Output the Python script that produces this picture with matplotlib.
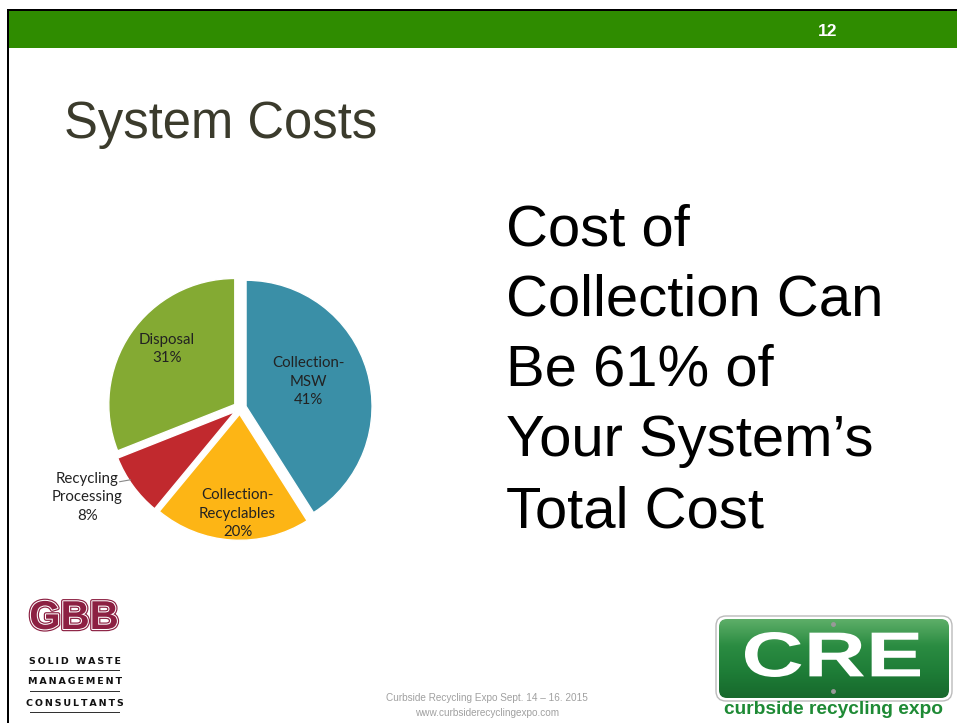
import matplotlib
matplotlib.use("Agg")
import matplotlib.pyplot as plt
import matplotlib.patheffects as pe
from matplotlib.patches import Rectangle, FancyBboxPatch, PathPatch
from matplotlib.textpath import TextPath
from matplotlib.font_manager import FontProperties
from matplotlib.transforms import Affine2D
import numpy as np

W, H = 957, 723

# chart data
segments = ["Collection-\nMSW", "Collection-\nRecyclables", "Recycling\nProcessing", "Disposal"]
shares = [41, 20, 8, 31]
colors = ["#3A8FA7", "#FDB515", "#C1292E", "#84AA33"]

title = "System Costs"
callout = ["Cost of", "Collection Can", "Be 61% of", "Your System\u2019s", "Total Cost"]
page_no = "12"
footer = ["Curbside Recycling Expo Sept. 14 \u2013 16. 2015", "www.curbsiderecyclingexpo.com"]


def fx(x):
    return x / W


def fy(y):
    return 1 - y / H


fig = plt.figure(figsize=(W / 100, H / 100), dpi=100)
fig.patch.set_facecolor("white")

# slide frame and header bar
fig.patches.append(Rectangle((fx(9), fy(48)), 1, fy(11) - fy(48), transform=fig.transFigure,
                             facecolor="#2F8C00", edgecolor="none"))
fig.patches.append(Rectangle((fx(7), fy(11)), 1, fy(9) - fy(11), transform=fig.transFigure,
                             facecolor="black", edgecolor="none"))
fig.patches.append(Rectangle((fx(7), 0), fx(2), fy(9), transform=fig.transFigure,
                             facecolor="black", edgecolor="none"))
fig.text(fx(828), fy(31), page_no, color="white", fontsize=12.5, fontweight="bold",
         family="Liberation Sans", ha="center", va="center")

fig.text(fx(64), fy(138), title, color="#3B3B2C", fontsize=36.5, family="Liberation Sans",
         ha="left", va="baseline")

for i, line in enumerate(callout):
    fig.text(fx(506), fy(245 + 70.5 * i), line, color="black", fontsize=41.8,
             family="Liberation Sans", ha="left", va="baseline")

# pie
cx, cy, r, half = 240, 408, 126, 200
ax = fig.add_axes([fx(cx - half), fy(cy + half), 2 * half / W, 2 * half / H])
ax.axis("off")
wedges, _ = ax.pie(shares, colors=colors, startangle=90, counterclock=False,
                   explode=[0.05] * len(shares), radius=1,
                   wedgeprops=dict(edgecolor="white", linewidth=1))
ax.set_xlim(-half / r, half / r)
ax.set_ylim(-half / r, half / r)

lab_font = dict(family="Lato", fontsize=10.8, color="#222222", ha="center", va="center",
                linespacing=1.4)
label_pos = [(0.54, 0.21), (-0.02, -0.84), (-1.21, -0.71), (-0.58, 0.47)]
for name, val, (lx, ly) in zip(segments, shares, label_pos):
    ax.text(lx, ly, "%s\n%d%%" % (name, val), **lab_font)
ax.plot([-0.955, -0.87], [-0.585, -0.57], color="#888888", lw=0.8)

# GBB logo
fig.text(fx(74), fy(618), "GBB", color="#8C2042", fontsize=29, fontweight="bold",
         family="Liberation Sans", ha="center", va="center",
         path_effects=[pe.Stroke(linewidth=3.2, foreground="#8C2042"),
                       pe.Stroke(linewidth=1.5, foreground="white"), pe.Normal()])
for i, word in enumerate(["SOLID WASTE", "MANAGEMENT", "CONSULTANTS"]):
    y = 661 + 21 * i
    fig.text(fx(75), fy(y), "\u2009".join(word), color="#111111", fontsize=6.8,
             fontweight="bold", family="DejaVu Sans", ha="center", va="center")
    fig.patches.append(Rectangle((fx(30), fy(y + 10)), fx(120) - fx(30), 1.5 / H,
                                 transform=fig.transFigure, facecolor="#333333", edgecolor="none"))

# footer
fig.text(fx(487), fy(698), footer[0], color="#A0A0A0", fontsize=7.2, family="Liberation Sans",
         ha="center", va="center")
fig.text(fx(487), fy(713), footer[1], color="#A0A0A0", fontsize=7.2, family="Liberation Sans",
         ha="center", va="center")

# CRE logo
lax = fig.add_axes([fx(714), fy(703), (954 - 714) / W, (703 - 614) / H])
lax.set_xlim(0, 240)
lax.set_ylim(0, 89)
lax.axis("off")
outer = FancyBboxPatch((2, 2), 236, 85, boxstyle="round,pad=0,rounding_size=10",
                       facecolor="white", edgecolor="#BBBBBB", lw=1, zorder=1)
lax.add_patch(outer)
inner = FancyBboxPatch((5, 5), 230, 79, boxstyle="round,pad=0,rounding_size=8",
                       facecolor="none", edgecolor="none", zorder=1)
lax.add_patch(inner)
grad = np.linspace(0, 1, 100).reshape(-1, 1)
img = lax.imshow(grad, extent=(5, 235, 5, 84), origin="lower", aspect="auto", zorder=2,
                 cmap=matplotlib.colors.LinearSegmentedColormap.from_list(
                     "g", ["#17692C", "#1E7D37", "#2B8C42", "#5DAE68"]))
img.set_clip_path(inner)
lax.set_xlim(0, 240)
lax.set_ylim(0, 89)
tp = TextPath((0, 0), "CRE", size=1, prop=FontProperties(family="Liberation Sans", weight="bold"))
bb = tp.get_extents()
tr = Affine2D().translate(-bb.x0, -bb.y0).scale(175 / bb.width, 45 / bb.height).translate(31, 26)
lax.add_patch(PathPatch(tp, transform=tr + lax.transData, facecolor="white", edgecolor="none",
                        zorder=3))
lax.plot([119, 119], [79, 12], "o", color="#999999", ms=2.5, zorder=4)
fig.text(fx(834), fy(709), "curbside recycling expo", color="#1E8A35", fontsize=13.8,
         fontweight="bold", family="Liberation Sans", ha="center", va="center")

fig.savefig("out.png", dpi=100, facecolor="white")
